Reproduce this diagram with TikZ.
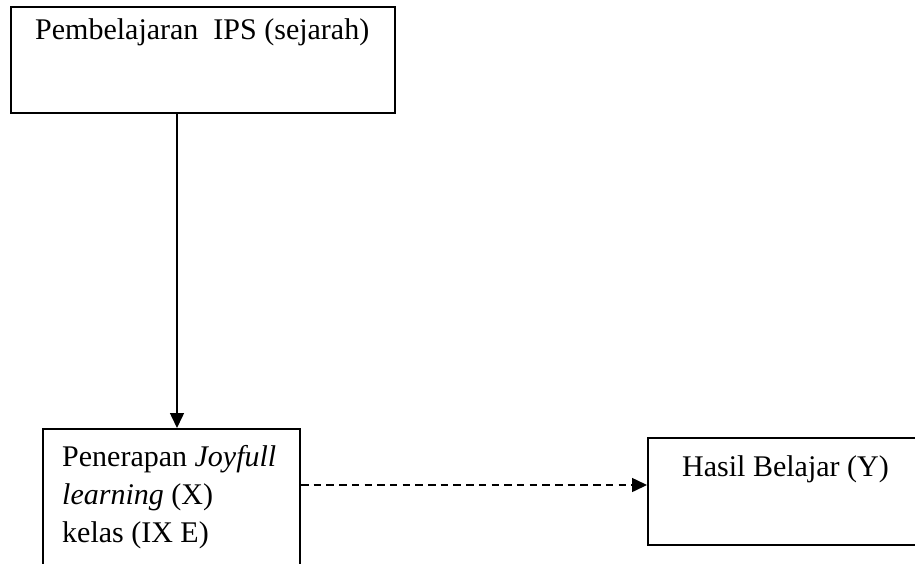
\documentclass[tikz,border=0pt]{standalone}
\usepackage{fontspec}
\setmainfont{Liberation Serif}
\usetikzlibrary{arrows.meta}
\tikzset{
  box/.style={draw=black, line width=2pt, inner sep=0pt, anchor=north west},
  txt/.style={inner sep=0pt, anchor=base west, font=\fontsize{30}{37}\selectfont},
  arr/.style={line width=1.5pt, -{Triangle[length=15pt,width=14pt]}},
  darr/.style={arr, dash pattern=on 7.5pt off 5.2pt}
}
\begin{document}
\begin{tikzpicture}[x=1pt,y=-1pt]
\useasboundingbox (0,0) rectangle (915,563);
\clip (0,0) rectangle (915,563);
\fill[white] (0,0) rectangle (915,563);
\node[box, minimum width=384pt, minimum height=106pt] (top) at (10,6) {};
\node[box, minimum width=257pt, minimum height=160pt] (left) at (42,428) {};
\node[box, minimum width=290pt, minimum height=107pt] (right) at (647,437) {};
\node[txt] (t1) at (35,39) {Pembelajaran\ \ IPS (sejarah)};
\node[txt] (l1) at (62,466) {Penerapan \textit{Joyfull}};
\node[txt] (l2) at (62,504) {\textit{learning} (X)};
\node[txt] (l3) at (62,542) {kelas (IX E)};
\node[txt] (r1) at (682,476) {Hasil Belajar (Y)};
\coordinate (ax) at (177,0);
\coordinate (dy) at (0,485);
\draw[arr] (top.south -| ax) -- (left.north -| ax);
\draw[darr] (left.east |- dy) -- (right.west |- dy);
\end{tikzpicture}
\end{document}
